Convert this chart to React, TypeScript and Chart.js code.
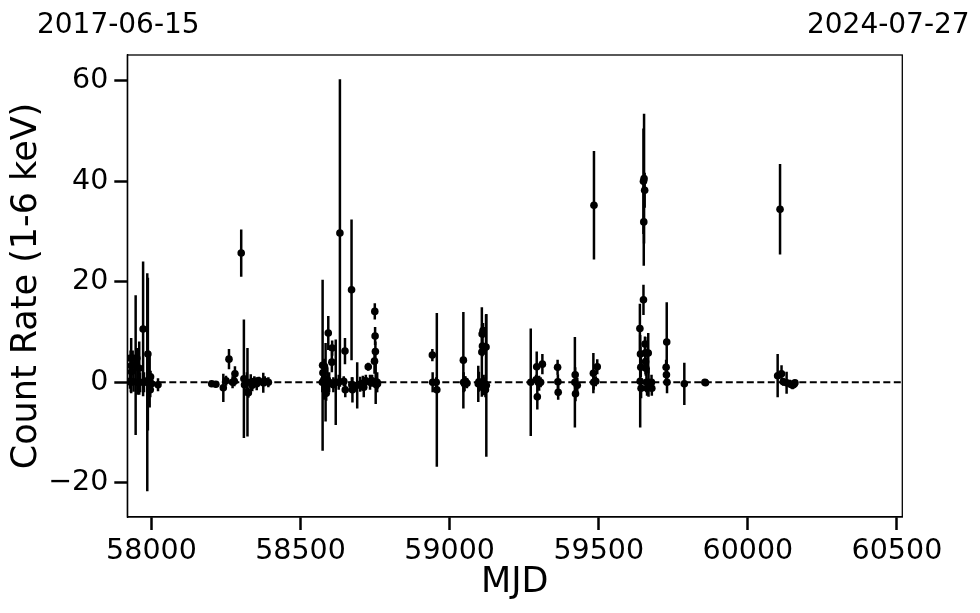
import React, { useEffect, useRef } from "react";
import { Chart, registerables } from "chart.js";

Chart.register(...registerables);

const obsMjd = [
  57928, 57930, 57931, 57932, 57933, 57937, 57940, 57944, 57947, 57951, 57953, 57959, 57962, 57972, 57975, 57986, 57988, 57990, 57994, 57996, 57997, 58000, 58022,
  58202, 58216, 58241, 58250, 58260, 58272, 58278, 58280, 58301, 58310, 58312, 58320, 58322, 58325, 58333, 58338, 58345, 58353, 58360, 58375, 58380, 58392,
  58573, 58574, 58575, 58578, 58580, 58584, 58586, 58590, 58593, 58596, 58605, 58606, 58610, 58618, 58628, 58632, 58645, 58649, 58650, 58671, 58672, 58674, 58690, 58700, 58709, 58712, 58719, 58727, 58733, 58740, 58748, 58749, 58750, 58751, 58752, 58754, 58757, 58758,
  58942, 58943, 58955, 58957,
  59046, 59047, 59050, 59053, 59058, 59096, 59098, 59104, 59108, 59109, 59110, 59112, 59114, 59116, 59118, 59120, 59122, 59123,
  59272, 59290, 59292, 59294, 59300, 59305, 59311, 59362, 59363, 59364, 59420, 59421, 59422, 59428, 59482, 59483, 59484, 59490, 59495,
  59638, 59639, 59640, 59641, 59642, 59650, 59650, 59651, 59652, 59654, 59655, 59656, 59657, 59658, 59660, 59662, 59666, 59667, 59677, 59678, 59726, 59727, 59728, 59729, 59787, 59856, 59858,
  60100, 60108, 60113, 60119, 60130, 60141, 60150, 60155, 60158,
];

const countRate = [
  0.2, 4.8, 0.0, 3.3, 2.1, 4.8, 0.1, 3.4, 3.4, 4.8, 0.0, 2.8, 0.0, 10.6, 0.0, 0.0, 5.6, 0.5, 0.4, -1.5, 1.1, -0.3, -0.5,
  -0.3, -0.4, -1.1, 0.3, 4.6, 0.0, 0.2, 1.7, 25.7, 0.7, -0.5, 0.0, -2.0, -2.1, 0.0, -0.6, 0.2, -0.3, 0.3, -0.1, 0.2, 0.0,
  0.0, 3.4, 1.9, 0.5, 3.2, 0.0, -2.2, 0.5, 9.8, 0.0, 4.0, 6.8, -0.5, 0.0, 0.0, 29.7, 0.2, 6.2, -1.5, 18.4, -0.5, -1.5, -0.6, -0.4, -0.2, -1.0, 0.3, 3.1, 0.0, 0.3, 4.2, 14.1, 9.2, 6.1, 0.0, -0.5, 0.0, -0.3,
  5.4, 0.0, 0.0, -1.5,
  4.4, 0.0, -0.3, 0.2, -0.2, -0.3, 0.1, -0.5, 6.0, 9.6, 7.2, 10.3, 0.0, -0.8, -0.3, -1.5, 7.0, -0.6,
  0.0, 0.5, 3.1, -2.9, -0.2, 0.0, 3.6, 3.0, 0.1, -2.0, 0.0, 1.5, -2.3, -0.6, 1.8, 0.0, 35.2, 0.2, 3.1,
  10.7, 0.2, 5.6, 3.0, -1.2, 16.4, 40.0, 31.9, 40.5, 38.2, 7.6, 5.8, 4.1, 2.8, 0.0, -1.2, 5.8, 0.0, 0.0, -1.2, 3.0, 1.5, 8.0, 0.0, -0.3, 0.0, -0.1,
  1.3, 34.4, 1.7, 0.1, -0.1, -0.3, -0.6, -0.4, -0.1,
];

const countRateErr = [
  1.5, 1.5, 2.0, 5.5, 1.5, 1.5, 2.0, 1.5, 13.9, 2.0, 2.5, 5.3, 2.0, 13.4, 2.0, 21.7, 15.2, 5.3, 5.4, 1.5, 1.2, 1.2, 1.3,
  0.5, 0.6, 2.8, 1.0, 2.0, 1.2, 1.0, 1.5, 4.7, 11.8, 1.5, 2.0, 8.8, 1.0, 1.6, 1.2, 1.0, 1.3, 0.8, 2.0, 1.0, 1.0,
  2.0, 17.0, 1.5, 4.0, 1.5, 7.8, 1.5, 2.5, 3.4, 2.0, 2.0, 1.5, 1.5, 8.5, 1.5, 30.6, 1.0, 2.6, 1.5, 14.0, 1.5, 2.5, 4.6, 1.5, 1.5, 2.0, 1.2, 0.8, 1.5, 1.2, 2.5, 1.6, 1.8, 2.0, 4.3, 1.5, 2.0, 1.0,
  1.2, 2.0, 1.0, 15.3,
  9.6, 2.0, 1.5, 1.0, 1.0, 3.6, 2.0, 1.2, 8.9, 2.0, 2.0, 1.5, 1.5, 1.8, 1.0, 1.5, 6.5, 14.2,
  10.7, 1.0, 3.0, 2.5, 1.5, 1.0, 2.0, 1.5, 1.5, 1.5, 9.0, 1.5, 1.5, 1.5, 4.0, 1.5, 10.8, 1.0, 1.5,
  4.9, 9.2, 1.5, 2.0, 2.0, 3.0, 10.5, 8.7, 12.9, 3.5, 1.5, 3.2, 2.5, 1.5, 2.0, 1.5, 4.0, 2.9, 1.5, 1.5, 1.5, 1.5, 7.9, 2.2, 4.2, 0.3, 0.3,
  4.3, 9.0, 1.7, 0.8, 2.2, 0.8, 0.8, 0.6, 0.5,
];

const xRange = [57919, 60518];
const yRange = [-26.8, 65.1];
const xTicks = [58000, 58500, 59000, 59500, 60000, 60500];
const yTicks = [-20, 0, 20, 40, 60];
const zeroLevel = [0, 0];
const topDateLabels = ["2017-06-15", "2024-07-27"];

const FONT = '"DejaVu Sans", "Liberation Sans", sans-serif';

const errorBarPlugin = {
  id: "errorBars",
  beforeDatasetsDraw(chart: any) {
    const { ctx, chartArea, scales } = chart;
    ctx.save();
    ctx.beginPath();
    ctx.rect(chartArea.left, chartArea.top, chartArea.right - chartArea.left, chartArea.bottom - chartArea.top);
    ctx.clip();
    ctx.strokeStyle = "#000";
    ctx.lineWidth = 2.5;
    for (let i = 0; i < obsMjd.length; i++) {
      const px = scales.x.getPixelForValue(obsMjd[i]);
      const y1 = scales.y.getPixelForValue(countRate[i] - countRateErr[i]);
      const y2 = scales.y.getPixelForValue(countRate[i] + countRateErr[i]);
      ctx.beginPath();
      ctx.moveTo(px, y1);
      ctx.lineTo(px, y2);
      ctx.stroke();
    }
    ctx.restore();
  },
  afterDraw(chart: any) {
    const { ctx, chartArea } = chart;
    ctx.save();
    ctx.strokeStyle = "#000";
    ctx.lineWidth = 1.3;
    ctx.strokeRect(chartArea.left, chartArea.top, chartArea.right - chartArea.left, chartArea.bottom - chartArea.top);
    ctx.fillStyle = "#000";
    ctx.font = `28px ${FONT}`;
    ctx.textAlign = "center";
    ctx.textBaseline = "alphabetic";
    ctx.fillText(topDateLabels[0], chartArea.left - 9, 33);
    ctx.fillText(topDateLabels[1], chartArea.right - 14, 33);
    ctx.restore();
  },
};

export default function App() {
  const canvasRef = useRef<HTMLCanvasElement | null>(null);

  useEffect(() => {
    if (!canvasRef.current) return;
    const points = obsMjd.map((x, i) => ({ x, y: countRate[i] }));
    const chart = new Chart(canvasRef.current, {
      type: "scatter",
      data: {
        datasets: [
          {
            type: "line",
            data: xRange.map((x, i) => ({ x, y: zeroLevel[i] })),
            borderColor: "#000",
            borderWidth: 1.8,
            borderDash: [7, 3.5],
            pointRadius: 0,
            fill: false,
          } as any,
          {
            data: points,
            pointRadius: 3.8,
            pointBackgroundColor: "#000",
            pointBorderWidth: 0,
            showLine: false,
          },
        ],
      },
      options: {
        animation: false,
        responsive: false,
        maintainAspectRatio: false,
        layout: { padding: { left: 0, top: 55, right: 77.7, bottom: 0 } },
        plugins: {
          legend: { display: false },
          tooltip: { enabled: false },
        },
        scales: {
          x: {
            type: "linear",
            min: xRange[0],
            max: xRange[1],
            afterFit: (s: any) => {
              s.height = 96;
            },
            afterBuildTicks: (s: any) => {
              s.ticks = xTicks.map((v) => ({ value: v }));
            },
            grid: {
              display: true,
              drawOnChartArea: false,
              drawTicks: true,
              tickLength: 13,
              tickWidth: 2.5,
              tickColor: "#000",
              color: "#000",
            },
            border: { display: true, color: "#000", width: 1.3 },
            ticks: {
              color: "#000",
              font: { family: FONT, size: 28.5 },
              padding: 4,
              maxRotation: 0,
              autoSkip: false,
              callback: (v: any) => String(v),
            },
            title: {
              display: true,
              text: "MJD",
              color: "#000",
              font: { family: FONT, size: 35 },
              padding: { top: 0, bottom: 9 },
            },
          },
          y: {
            type: "linear",
            min: yRange[0],
            max: yRange[1],
            afterFit: (s: any) => {
              s.width = 127.3;
            },
            afterBuildTicks: (s: any) => {
              s.ticks = yTicks.map((v) => ({ value: v }));
            },
            grid: {
              display: true,
              drawOnChartArea: false,
              drawTicks: true,
              tickLength: 13,
              tickWidth: 2.5,
              tickColor: "#000",
              color: "#000",
            },
            border: { display: true, color: "#000", width: 1.3 },
            ticks: {
              color: "#000",
              font: { family: FONT, size: 28.5 },
              padding: 6,
              autoSkip: false,
              callback: (v: any) => String(v).replace("-", "\u2212"),
            },
            title: {
              display: true,
              text: "Count Rate (1-6 keV)",
              color: "#000",
              font: { family: FONT, size: 35 },
              padding: { top: 6, bottom: 0 },
            },
          },
        },
      },
      plugins: [errorBarPlugin],
    });
    return () => chart.destroy();
  }, []);

  return (
    <div style={{ position: "fixed", left: 0, top: 0, width: 980, height: 613, background: "#fff" }}>
      <canvas ref={canvasRef} width={980} height={613} style={{ width: 980, height: 613, display: "block" }} />
    </div>
  );
}
